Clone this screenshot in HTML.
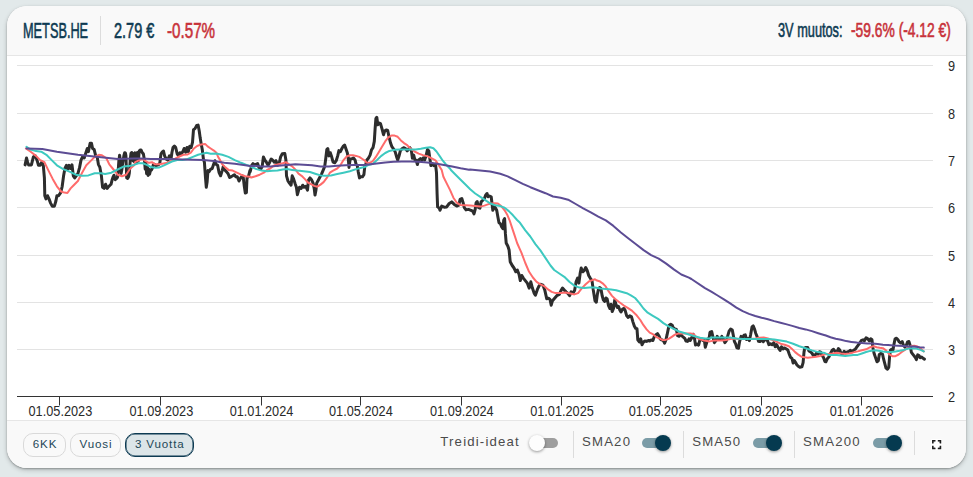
<!DOCTYPE html>
<html><head><meta charset="utf-8"><title>METSB.HE</title>
<style>
html,body{margin:0;padding:0;}
body{width:973px;height:477px;overflow:hidden;background:#e2e9ea;font-family:"Liberation Sans",sans-serif;position:relative;}
.card{position:absolute;left:7px;top:6px;width:959px;height:462px;border-radius:20px;background:#fff;box-shadow:0 1px 2px rgba(0,0,0,.28),0 2px 5px rgba(0,10,10,.2);overflow:hidden;}
.head{position:absolute;left:0;top:0;width:100%;height:49px;background:#f9f9f9;border-bottom:1px solid #e6e6e6;}
.foot{position:absolute;left:0;top:414px;width:100%;height:48px;background:#f9f9f9;border-top:1px solid #e6e6e6;}
.chart{position:absolute;left:0;top:0;}
.cond{position:absolute;white-space:nowrap;font-size:21.5px;line-height:21.5px;transform-origin:0 50%;color:#0d3a52;-webkit-text-stroke:.6px #0d3a52;}
.red{color:#c8323a;-webkit-text-stroke-color:#c8323a;}
.vsep{position:absolute;width:1px;background:#dcdcdc;}
.btn{position:absolute;top:433.2px;height:21.4px;border:1px solid #d9d9d9;border-radius:10px;background:#f9f9f9;color:#234757;font-size:11.6px;letter-spacing:.85px;line-height:20.2px;text-indent:.8px;text-align:center;box-sizing:content-box;}
.btn.act{border:1px solid #0d3a52;background:#dce5e8;box-shadow:inset 0 0 0 .5px #0d3a52;}
.lbl{position:absolute;top:433px;font-size:13.2px;line-height:18px;color:#4b4b4b;letter-spacing:1.18px;white-space:nowrap;}
.trk{position:absolute;top:438px;width:28px;height:10px;border-radius:5px;background:#9e9e9e;}
.trk.on{background:#7b9ca7;}
.knob{position:absolute;top:435px;width:16px;height:16px;border-radius:50%;background:#fdfdfd;box-shadow:0 1px 3px rgba(0,0,0,.4);}
.knob.on{background:#053a50;}
</style></head><body>
<div class="card">
<div class="head"></div>
<div class="foot"></div>
</div>
<svg class="chart" width="973" height="477" viewBox="0 0 973 477">
<line x1="17" x2="933" y1="349.5" y2="349.5" stroke="#e3e3e3" stroke-width="1"/><line x1="17" x2="933" y1="302.5" y2="302.5" stroke="#e3e3e3" stroke-width="1"/><line x1="17" x2="933" y1="255.5" y2="255.5" stroke="#e3e3e3" stroke-width="1"/><line x1="17" x2="933" y1="207.5" y2="207.5" stroke="#e3e3e3" stroke-width="1"/><line x1="17" x2="933" y1="160.5" y2="160.5" stroke="#e3e3e3" stroke-width="1"/><line x1="17" x2="933" y1="113.5" y2="113.5" stroke="#e3e3e3" stroke-width="1"/><line x1="17" x2="933" y1="65.5" y2="65.5" stroke="#e3e3e3" stroke-width="1"/>
<line x1="17" x2="933" y1="396.5" y2="396.5" stroke="#333" stroke-width="1"/>
<line x1="59.5" x2="59.5" y1="396.5" y2="405.5" stroke="#333" stroke-width="1"/><line x1="160.5" x2="160.5" y1="396.5" y2="405.5" stroke="#333" stroke-width="1"/><line x1="261.5" x2="261.5" y1="396.5" y2="405.5" stroke="#333" stroke-width="1"/><line x1="360.5" x2="360.5" y1="396.5" y2="405.5" stroke="#333" stroke-width="1"/><line x1="461.5" x2="461.5" y1="396.5" y2="405.5" stroke="#333" stroke-width="1"/><line x1="561.5" x2="561.5" y1="396.5" y2="405.5" stroke="#333" stroke-width="1"/><line x1="660.5" x2="660.5" y1="396.5" y2="405.5" stroke="#333" stroke-width="1"/><line x1="761.5" x2="761.5" y1="396.5" y2="405.5" stroke="#333" stroke-width="1"/><line x1="861.5" x2="861.5" y1="396.5" y2="405.5" stroke="#333" stroke-width="1"/>
<g font-family="Liberation Sans, sans-serif" font-size="12.75" fill="#2a2a2a"><text transform="translate(60.4,415.7) scale(1,1.15)" text-anchor="middle">01.05.2023</text><text transform="translate(161.4,415.7) scale(1,1.15)" text-anchor="middle">01.09.2023</text><text transform="translate(261.5,415.7) scale(1,1.15)" text-anchor="middle">01.01.2024</text><text transform="translate(360.9,415.7) scale(1,1.15)" text-anchor="middle">01.05.2024</text><text transform="translate(461.8,415.7) scale(1,1.15)" text-anchor="middle">01.09.2024</text><text transform="translate(562.0,415.7) scale(1,1.15)" text-anchor="middle">01.01.2025</text><text transform="translate(660.5,415.7) scale(1,1.15)" text-anchor="middle">01.05.2025</text><text transform="translate(761.5,415.7) scale(1,1.15)" text-anchor="middle">01.09.2025</text><text transform="translate(861.6,415.7) scale(1,1.15)" text-anchor="middle">01.01.2026</text><text transform="translate(948,401.9) scale(1,1.09)">2</text><text transform="translate(948,354.9) scale(1,1.09)">3</text><text transform="translate(948,307.9) scale(1,1.09)">4</text><text transform="translate(948,260.9) scale(1,1.09)">5</text><text transform="translate(948,212.9) scale(1,1.09)">6</text><text transform="translate(948,165.9) scale(1,1.09)">7</text><text transform="translate(948,118.9) scale(1,1.09)">8</text><text transform="translate(948,70.9) scale(1,1.09)">9</text></g>
<g fill="none" stroke-linejoin="round" stroke-linecap="round">
<path d="M25.1,164.9 L26.5,158.0 L27.6,162.2 L28.6,164.9 L31.4,164.9 L33.4,156.9 L35.3,155.9 L37.0,160.1 L38.5,165.3 L40.2,165.3 L41.8,162.2 L43.3,165.3 L44.4,177.9 L44.8,195.7 L46.0,198.9 L47.5,195.7 L49.0,198.9 L50.6,203.1 L52.3,206.2 L54.4,206.2 L55.9,201.0 L56.9,195.7 L58.6,195.7 L60.7,192.6 L62.2,186.3 L63.6,175.8 L64.9,168.5 L66.4,165.3 L67.8,169.1 L69.1,165.3 L70.6,168.5 L72.0,164.9 L73.3,175.8 L74.7,177.9 L76.2,175.8 L77.9,173.7 L79.6,167.4 L81.0,160.1 L82.5,156.9 L84.2,158.0 L85.9,152.7 L87.3,148.5 L88.4,151.7 L90.1,143.3 L91.5,143.3 L92.6,148.5 L94.2,149.6 L95.7,155.9 L97.2,156.9 L98.4,164.3 L99.9,167.4 L101.4,175.8 L102.6,187.3 L104.1,188.4 L105.6,184.2 L107.2,188.4 L108.0,187.3 L109.5,185.8 L111.0,184.3 L112.0,180.3 L113.0,177.2 L114.0,175.2 L115.2,179.7 L116.3,178.7 L117.5,177.2 L118.3,169.2 L118.9,160.1 L119.6,155.3 L120.2,159.1 L120.6,166.2 L121.1,173.4 L121.9,169.2 L122.7,163.1 L123.3,159.6 L124.0,155.1 L124.7,152.7 L125.4,152.9 L125.9,155.6 L126.3,166.2 L126.7,178.0 L127.6,178.4 L128.6,176.8 L129.3,173.2 L129.8,167.2 L130.3,159.1 L131.0,153.3 L131.7,152.5 L132.5,153.3 L133.0,160.6 L133.7,161.3 L134.4,155.1 L135.0,152.9 L135.6,162.6 L136.3,152.9 L137.0,162.3 L137.7,152.5 L138.4,160.6 L139.2,151.1 L140.2,150.0 L141.0,149.9 L141.8,151.7 L142.6,153.1 L143.4,153.9 L143.9,157.1 L144.6,161.6 L145.2,169.2 L145.9,162.6 L146.6,173.7 L147.3,165.7 L148.1,175.4 L148.9,169.2 L149.6,174.2 L150.4,170.7 L151.4,170.0 L152.4,168.0 L153.2,165.2 L153.9,164.2 L154.9,164.7 L156.0,165.7 L158.3,164.9 L159.8,163.2 L161.0,153.8 L162.5,151.7 L163.5,151.1 L164.6,155.9 L166.1,159.0 L167.7,160.1 L169.4,155.9 L170.9,160.1 L171.9,152.7 L173.0,147.5 L174.4,146.0 L175.7,147.5 L177.2,153.8 L178.6,155.9 L179.9,152.7 L181.4,153.8 L182.8,151.7 L184.1,148.5 L185.6,152.3 L187.0,147.5 L188.3,151.7 L189.7,146.4 L191.2,147.5 L192.5,142.3 L193.5,129.7 L195.0,128.6 L196.7,125.5 L198.1,125.1 L199.2,130.7 L200.2,138.1 L201.3,144.4 L202.3,149.6 L203.4,159.0 L204.4,162.2 L205.5,177.9 L206.3,187.3 L207.1,182.1 L208.0,170.6 L209.2,171.6 L210.7,169.1 L212.2,168.5 L213.4,164.9 L214.9,160.7 L216.0,164.3 L217.6,165.3 L219.1,172.7 L220.6,175.8 L222.2,170.6 L223.3,166.4 L224.8,169.9 L226.4,171.6 L228.1,173.7 L229.6,177.5 L231.0,176.8 L232.7,175.8 L234.4,174.7 L235.9,176.8 L237.3,176.8 L239.0,181.0 L240.7,177.9 L242.2,175.8 L243.2,176.8 L244.3,186.3 L245.3,193.0 L246.4,192.6 L247.0,177.9 L248.4,176.8 L249.9,170.6 L250.2,171.6 L251.7,165.3 L253.0,163.6 L254.4,164.9 L255.9,164.3 L257.6,163.6 L259.3,168.5 L260.7,169.1 L262.2,166.4 L263.4,156.9 L264.9,160.1 L266.4,162.2 L268.1,165.3 L269.7,162.2 L271.2,159.0 L272.7,160.1 L274.4,162.2 L276.0,160.7 L277.5,165.3 L279.0,164.3 L280.6,156.9 L282.3,153.8 L284.8,153.4 L285.9,160.1 L286.5,175.8 L288.0,181.0 L289.4,183.1 L291.1,185.2 L292.2,175.8 L293.6,178.9 L295.3,184.2 L296.4,187.3 L297.4,194.7 L298.5,190.5 L299.5,187.3 L301.2,188.4 L302.7,185.2 L304.1,187.3 L305.8,186.3 L307.5,190.1 L308.5,180.0 L310.0,177.9 L311.7,180.0 L313.1,183.1 L314.2,188.4 L315.0,195.1 L315.9,190.5 L316.7,183.1 L318.4,180.0 L320.1,176.8 L321.5,174.1 L323.0,170.6 L324.7,166.4 L325.7,159.0 L326.8,149.6 L327.8,148.5 L328.9,155.9 L330.3,152.7 L331.4,155.9 L333.1,162.2 L334.7,162.8 L336.2,160.7 L337.7,155.9 L338.9,150.6 L340.4,151.7 L341.9,148.5 L343.1,146.4 L344.6,145.0 L346.0,149.0 L347.3,152.7 L348.1,156.9 L349.0,167.4 L350.2,159.0 L351.9,158.6 L353.6,158.0 L355.1,160.1 L356.1,164.3 L357.2,165.3 L358.2,171.6 L359.5,177.9 L360.7,176.8 L362.4,176.8 L363.9,174.7 L364.9,165.3 L365.5,165.6 L366.7,160.3 L368.4,158.2 L370.1,155.1 L371.5,149.8 L373.0,147.7 L374.3,141.4 L375.1,128.9 L375.9,118.4 L376.8,117.3 L377.8,124.7 L379.3,123.0 L380.5,123.6 L382.0,128.9 L383.5,134.7 L384.7,131.0 L386.2,129.9 L387.7,130.5 L388.9,136.2 L390.4,142.5 L391.9,146.7 L393.5,148.8 L395.2,151.9 L396.7,157.2 L397.7,159.9 L399.0,156.1 L400.3,150.9 L401.9,148.8 L404.0,147.7 L405.7,148.8 L407.2,150.9 L408.6,148.8 L409.9,147.7 L411.4,150.9 L412.4,158.2 L413.7,155.1 L414.9,159.9 L416.2,160.3 L417.4,164.5 L418.7,159.9 L420.4,158.6 L421.8,159.9 L423.3,157.8 L424.6,159.9 L426.0,156.1 L427.5,149.4 L428.8,150.9 L429.8,158.2 L430.9,165.6 L432.3,163.5 L433.8,165.6 L435.5,164.1 L436.5,172.9 L437.1,193.9 L437.6,206.9 L439.2,208.1 L440.0,210.3 L441.7,206.1 L444.2,207.2 L446.7,206.9 L449.2,203.5 L451.7,201.9 L454.3,204.4 L456.8,206.1 L458.8,205.2 L460.1,199.4 L461.8,198.5 L463.1,202.7 L464.3,207.7 L466.0,209.9 L468.5,209.4 L471.0,210.3 L472.7,211.1 L474.0,213.9 L475.2,209.4 L476.1,202.7 L477.2,201.5 L478.6,207.7 L479.9,208.2 L481.1,201.9 L482.8,200.2 L484.4,198.5 L485.6,195.2 L487.0,193.5 L488.1,196.8 L489.5,196.0 L491.2,196.8 L492.0,203.5 L492.8,210.3 L494.0,206.1 L495.3,207.7 L496.7,210.3 L497.9,217.0 L499.0,222.8 L500.4,223.7 L501.7,227.0 L502.9,228.7 L503.7,220.3 L504.6,218.6 L505.4,233.7 L506.2,243.0 L507.9,246.3 L509.1,250.0 L510.2,261.7 L512.2,265.5 L514.0,268.0 L515.8,271.8 L517.3,270.0 L519.0,274.3 L520.3,280.6 L521.8,275.5 L523.3,278.1 L525.3,280.6 L527.3,283.1 L529.1,288.1 L530.8,281.8 L532.4,288.1 L534.1,293.1 L535.4,295.2 L537.4,289.4 L539.2,285.6 L540.9,284.3 L542.9,285.1 L544.9,290.6 L546.7,298.7 L548.5,298.2 L550.0,299.4 L551.2,305.2 L552.5,300.7 L554.2,298.7 L556.8,295.7 L559.3,294.4 L561.0,290.6 L562.5,288.1 L564.3,290.1 L566.1,291.9 L568.1,293.6 L569.6,295.7 L571.1,291.9 L573.1,293.1 L574.6,290.6 L576.1,281.8 L577.6,278.1 L578.9,283.1 L580.2,273.0 L581.2,268.0 L582.7,271.8 L584.2,270.5 L585.7,267.5 L587.2,270.5 L588.7,275.5 L590.2,278.1 L592.0,280.6 L593.2,289.4 L595.0,300.7 L596.3,302.2 L597.3,294.8 L598.4,289.6 L599.6,287.5 L600.9,288.5 L602.2,295.9 L603.4,300.1 L604.7,301.5 L605.9,298.0 L607.2,299.0 L608.4,305.3 L609.9,308.5 L611.0,304.3 L612.2,311.6 L613.5,308.5 L614.7,300.1 L616.0,304.3 L617.3,307.4 L618.5,306.4 L619.8,309.9 L621.0,312.0 L622.5,309.1 L624.0,308.5 L625.2,310.6 L626.7,315.8 L628.2,317.5 L629.8,315.8 L631.5,316.8 L633.0,322.1 L634.4,326.3 L635.7,328.4 L637.0,328.8 L637.8,339.9 L639.3,342.0 L640.7,338.9 L642.0,344.7 L643.5,342.0 L644.9,341.0 L646.6,341.4 L648.3,340.5 L649.7,341.0 L651.2,339.9 L652.9,340.5 L654.6,335.7 L656.0,334.7 L657.5,333.6 L658.8,335.7 L660.2,338.9 L661.7,339.9 L663.4,340.5 L664.6,343.1 L665.9,339.9 L667.1,334.7 L668.4,328.4 L669.2,325.2 L670.7,324.2 L672.2,325.2 L673.4,328.0 L674.9,328.8 L676.4,329.4 L677.6,335.7 L679.1,336.3 L680.6,334.2 L681.8,335.7 L683.3,337.2 L684.8,338.4 L686.0,341.0 L687.5,341.4 L689.0,338.9 L690.2,340.5 L691.7,337.8 L693.1,334.2 L694.4,337.8 L695.5,345.1 L696.9,344.1 L698.6,345.1 L699.9,339.9 L701.1,338.9 L702.8,340.5 L704.3,339.9 L705.3,347.2 L706.6,343.1 L707.8,338.9 L709.1,338.4 L709.9,332.6 L710.2,332.2 L711.7,331.5 L713.0,337.4 L714.4,342.7 L715.9,340.6 L717.2,336.4 L718.6,338.5 L720.1,339.5 L721.8,336.4 L723.4,339.1 L724.9,342.7 L726.4,340.6 L727.6,336.4 L729.1,331.1 L730.6,329.0 L732.3,330.1 L733.3,335.3 L734.4,341.6 L735.6,343.7 L736.9,347.9 L738.5,348.3 L739.6,341.6 L741.1,336.4 L742.7,337.4 L744.0,335.3 L745.3,334.9 L746.5,339.5 L748.0,338.5 L749.4,340.6 L750.7,334.3 L752.0,326.9 L753.2,325.9 L754.5,329.0 L755.7,333.2 L757.0,336.4 L758.5,341.2 L759.9,341.6 L761.6,339.9 L763.3,341.6 L764.7,339.5 L766.2,339.9 L767.5,340.6 L768.9,344.7 L770.4,343.7 L772.1,344.7 L773.8,342.7 L775.2,346.8 L776.7,344.7 L778.4,347.9 L780.1,350.4 L781.5,346.8 L783.0,348.9 L784.7,347.9 L786.3,348.9 L787.8,350.0 L789.3,354.2 L790.5,357.3 L792.0,358.4 L793.1,363.0 L794.3,360.5 L795.6,362.6 L796.8,364.7 L798.3,366.3 L799.8,367.2 L801.9,366.8 L803.1,362.6 L804.0,352.1 L804.8,347.9 L806.0,347.5 L807.7,347.5 L809.0,351.0 L810.2,351.7 L811.9,353.1 L813.6,355.9 L815.1,355.2 L816.5,353.1 L818.2,354.2 L819.5,351.7 L820.7,352.1 L822.0,355.2 L823.4,357.3 L824.9,361.5 L825.9,361.8 L827.3,358.7 L828.8,357.0 L830.5,353.5 L832.2,350.3 L833.6,349.3 L835.1,351.4 L836.8,352.4 L838.4,348.6 L839.9,350.3 L841.0,353.5 L842.6,354.1 L844.1,351.4 L845.6,352.4 L847.3,352.0 L848.9,351.4 L850.4,350.3 L851.9,352.0 L853.5,350.3 L855.2,349.3 L856.7,347.2 L858.2,345.1 L859.8,343.0 L861.5,340.3 L863.0,339.8 L864.4,340.9 L866.1,337.7 L867.8,338.8 L869.3,340.9 L870.7,338.8 L872.0,339.8 L872.8,347.2 L874.1,353.5 L875.6,357.7 L877.0,361.8 L878.3,360.8 L879.3,354.5 L880.8,353.5 L882.5,354.1 L883.5,358.7 L884.6,362.9 L886.0,368.1 L887.5,369.2 L888.8,367.1 L889.6,356.6 L890.4,350.3 L891.7,349.3 L893.0,349.9 L893.8,345.1 L895.1,338.8 L896.5,338.2 L898.0,339.8 L899.2,341.9 L900.7,343.0 L902.2,341.5 L903.4,345.1 L904.9,347.2 L906.4,345.1 L907.6,341.9 L908.9,341.5 L910.1,345.1 L911.4,352.4 L912.7,354.1 L913.9,355.6 L915.4,357.7 L916.4,359.7 L917.7,354.9 L919.0,355.6 L920.2,357.7 L921.7,357.0 L923.1,358.3 L924.4,359.1" stroke="#2d2d2d" stroke-width="3"/>
<path d="M25.9,148.5 L30.7,151.7 L36.0,155.9 L40.2,160.1 L44.4,162.2 L48.5,170.6 L52.7,178.9 L56.9,186.3 L61.1,191.5 L64.3,192.6 L67.4,193.0 L70.6,188.4 L73.7,185.2 L77.9,181.0 L82.1,172.7 L86.3,165.3 L90.5,161.1 L94.7,156.9 L98.9,154.8 L102.0,155.3 L106.2,158.0 L109.3,164.3 L113.5,169.5 L117.7,174.7 L121.9,176.2 L126.1,174.7 L130.3,168.5 L134.1,165.3 L135.2,162.2 L139.4,160.1 L142.6,159.0 L145.7,161.1 L148.9,162.8 L152.0,162.2 L155.2,164.3 L159.4,164.3 L163.5,163.6 L167.7,162.8 L171.9,160.1 L175.1,158.6 L179.3,156.5 L183.5,154.8 L187.7,154.4 L190.8,152.7 L193.9,148.5 L197.1,146.0 L201.3,144.4 L205.1,143.9 L207.6,146.4 L210.7,148.5 L213.9,150.6 L216.4,152.7 L218.1,156.9 L220.1,160.1 L222.2,164.3 L225.4,167.4 L228.5,169.9 L232.7,170.6 L236.9,172.7 L241.1,174.7 L245.3,176.2 L249.9,176.8 L251.3,177.5 L255.5,176.2 L259.7,174.7 L263.9,172.7 L267.0,169.9 L270.2,168.5 L274.4,165.3 L278.5,164.3 L282.7,163.2 L285.9,162.2 L289.0,164.3 L292.2,166.4 L295.3,169.5 L298.5,173.7 L301.6,175.8 L304.7,178.9 L307.9,182.5 L311.0,184.2 L314.2,185.9 L317.3,186.7 L320.5,184.6 L323.6,182.1 L326.8,177.9 L329.9,172.7 L333.1,170.6 L337.2,168.5 L340.4,165.3 L343.5,160.1 L346.7,156.5 L349.8,155.3 L353.0,155.3 L356.1,155.9 L359.3,156.9 L362.4,159.0 L364.9,160.7 L366.3,162.4 L369.4,162.8 L372.6,161.4 L375.7,157.2 L378.9,151.9 L382.0,146.7 L385.2,141.4 L388.3,137.3 L391.4,135.6 L394.6,135.6 L397.7,136.8 L400.9,140.4 L404.0,143.1 L407.2,145.2 L410.3,148.2 L414.5,151.5 L418.7,153.6 L422.9,155.1 L427.1,156.1 L431.3,158.2 L435.5,160.3 L438.6,164.9 L441.7,170.0 L443.4,176.7 L446.7,183.4 L450.1,190.1 L453.4,197.7 L456.8,202.7 L460.1,204.9 L465.2,205.2 L470.2,205.6 L475.2,206.1 L480.3,206.6 L484.4,205.6 L487.8,204.4 L491.2,203.5 L494.5,203.2 L497.9,203.5 L501.2,206.1 L504.6,210.3 L507.1,214.4 L509.6,220.3 L512.1,227.9 L514.6,235.4 L517.1,243.0 L519.7,248.8 L521.5,252.9 L525.3,263.0 L529.1,271.8 L532.9,277.5 L536.6,281.8 L540.4,284.3 L544.2,286.1 L548.0,289.4 L551.7,291.9 L555.5,293.1 L560.5,293.1 L565.6,292.6 L570.6,293.6 L574.4,294.4 L578.1,293.1 L581.9,288.1 L585.7,284.3 L589.5,281.1 L595.0,279.3 L596.3,280.2 L599.4,281.2 L602.6,283.3 L605.7,286.4 L608.9,291.7 L612.0,295.9 L615.2,299.0 L619.4,302.2 L623.5,305.3 L627.7,307.8 L631.9,310.6 L636.1,314.7 L640.3,320.0 L643.5,325.2 L646.6,329.4 L649.7,332.6 L652.9,334.2 L656.0,336.8 L659.2,338.4 L662.3,339.9 L665.5,339.9 L668.6,338.9 L671.8,336.8 L674.9,334.7 L678.1,333.6 L682.2,333.6 L686.4,333.6 L690.6,333.6 L693.8,334.2 L696.9,337.8 L700.1,339.3 L704.3,340.5 L709.9,341.4 L713.4,340.6 L717.6,340.6 L721.8,340.6 L726.0,339.9 L730.2,339.1 L734.4,338.5 L738.5,339.1 L742.7,339.1 L746.9,339.1 L751.1,339.1 L755.3,338.5 L759.5,337.8 L763.7,337.4 L767.9,338.5 L772.1,339.9 L776.3,341.6 L780.5,343.7 L784.7,344.7 L788.9,346.2 L792.0,348.9 L795.1,352.1 L798.3,354.6 L801.4,356.7 L804.6,357.3 L807.7,357.7 L811.9,357.3 L816.1,356.7 L820.3,355.9 L824.9,354.2 L828.4,354.1 L832.6,353.5 L836.8,352.8 L841.0,353.5 L845.2,354.1 L849.4,353.5 L853.5,352.4 L857.7,351.4 L861.9,350.3 L866.1,349.3 L870.3,347.2 L873.5,346.1 L876.6,347.2 L879.7,347.8 L882.9,348.2 L886.0,350.3 L889.2,354.1 L892.3,356.2 L895.5,356.2 L898.6,354.5 L901.8,352.0 L904.9,349.9 L908.1,347.8 L911.2,346.1 L914.3,345.7 L917.5,346.5 L920.6,348.6 L923.8,351.4" stroke="#ff6b6b" stroke-width="2"/>
<path d="M26.5,146.9 L30.7,149.6 L36.0,151.1 L41.2,151.7 L46.4,154.8 L51.7,160.1 L56.9,165.3 L63.2,169.1 L69.5,171.6 L75.8,174.7 L82.1,175.8 L88.4,175.4 L94.7,173.3 L101.0,173.3 L105.1,174.1 L111.4,172.7 L117.7,169.5 L124.0,166.4 L130.3,165.7 L134.1,164.9 L138.4,163.2 L142.6,163.2 L146.8,164.9 L151.0,167.0 L155.2,167.8 L159.4,167.4 L163.5,165.7 L167.7,163.6 L171.9,161.5 L177.2,160.1 L182.4,160.1 L187.7,159.0 L192.9,156.9 L198.1,154.8 L203.4,153.4 L206.5,152.7 L210.7,153.8 L216.0,153.4 L222.2,154.8 L228.5,156.9 L234.8,160.1 L241.1,162.8 L246.4,164.9 L249.9,165.9 L252.3,167.4 L256.5,169.1 L261.8,170.6 L267.0,171.2 L272.3,170.8 L277.5,170.6 L282.7,169.5 L286.9,169.1 L292.2,169.9 L297.4,170.6 L303.7,171.2 L310.0,172.0 L315.2,173.7 L320.5,175.4 L325.7,175.8 L331.0,175.4 L337.2,174.1 L343.5,172.7 L349.8,171.2 L356.1,169.1 L361.4,167.8 L364.9,167.0 L368.4,164.9 L372.6,164.1 L376.8,160.3 L381.0,156.1 L385.2,153.0 L389.4,150.9 L394.6,149.8 L399.8,149.4 L405.1,149.4 L410.3,149.4 L415.6,149.4 L420.8,148.8 L426.0,147.7 L430.2,147.3 L433.4,148.2 L436.5,151.5 L439.7,156.1 L442.8,160.7 L446.0,164.5 L450.1,168.7 L450.9,170.0 L455.1,174.2 L460.1,179.2 L465.2,184.3 L470.2,189.3 L475.2,193.5 L480.3,196.8 L485.3,200.2 L490.3,203.5 L495.3,205.2 L500.4,206.1 L504.6,207.7 L508.8,211.1 L513.0,215.3 L517.1,220.0 L520.0,222.8 L525.3,230.3 L530.3,236.5 L535.4,244.1 L540.4,250.4 L545.4,257.9 L550.5,265.5 L554.2,270.0 L559.3,273.5 L564.3,276.8 L569.3,281.8 L574.4,285.6 L579.4,287.6 L584.4,288.1 L589.5,287.6 L595.0,287.6 L600.5,288.5 L605.7,289.0 L611.0,289.6 L616.2,290.2 L621.4,291.7 L626.7,293.2 L630.9,295.3 L635.1,298.0 L639.3,302.8 L643.5,308.5 L647.7,312.7 L652.9,315.8 L658.1,318.9 L663.4,323.1 L668.6,326.3 L673.9,328.8 L679.1,331.5 L684.3,333.0 L689.6,334.7 L694.8,336.3 L700.1,337.8 L705.3,338.4 L709.9,338.4 L711.3,337.4 L717.6,337.4 L723.9,337.4 L730.2,337.4 L736.4,338.5 L742.7,339.1 L749.0,339.1 L755.3,339.1 L761.6,339.1 L767.9,339.1 L774.2,339.5 L780.5,340.6 L786.8,341.6 L793.1,343.7 L799.3,346.2 L805.6,348.3 L811.9,350.4 L818.2,352.1 L824.9,353.1 L828.4,354.9 L832.6,354.9 L836.8,354.9 L841.0,355.6 L845.2,356.0 L849.4,355.6 L853.5,354.9 L857.7,354.9 L861.9,353.5 L866.1,352.0 L870.3,350.9 L874.5,350.3 L878.7,350.7 L882.9,351.4 L887.1,352.0 L891.3,352.0 L895.5,351.4 L899.7,350.7 L903.9,349.9 L908.1,348.6 L912.2,348.2 L916.4,348.6 L920.6,349.9 L923.8,351.4" stroke="#3dc9c0" stroke-width="2"/>
<path d="M26.5,148.5 L42.3,149.0 L56.9,151.7 L77.9,154.8 L98.9,156.9 L117.7,159.0 L134.1,158.6 L140.5,158.4 L151.0,159.0 L161.4,159.0 L171.9,159.0 L182.4,159.4 L192.9,159.7 L203.4,160.1 L213.9,161.1 L224.3,162.8 L234.8,163.8 L245.3,165.3 L249.9,165.9 L253.4,165.7 L261.8,166.4 L270.2,166.4 L278.5,165.7 L286.9,164.9 L295.3,164.3 L303.7,164.7 L312.1,165.3 L320.5,166.4 L328.9,166.4 L337.2,165.7 L345.6,165.3 L354.0,164.9 L364.9,164.9 L368.4,164.5 L376.8,163.5 L385.2,162.4 L393.5,161.8 L401.9,161.4 L410.3,161.4 L418.7,161.8 L427.1,162.4 L435.5,163.5 L443.9,164.9 L452.2,166.6 L460.6,168.3 L469.0,169.7 L470.0,169.6 L480.1,170.6 L490.1,171.6 L500.2,173.8 L507.7,176.4 L515.3,180.1 L522.8,183.9 L530.4,187.2 L537.9,190.2 L545.5,193.2 L553.0,196.5 L560.6,197.7 L568.1,199.7 L575.7,204.0 L583.2,208.3 L590.8,212.3 L598.3,216.6 L605.8,220.4 L613.4,225.9 L620.9,232.5 L628.5,238.5 L636.0,244.3 L643.6,250.1 L651.1,255.1 L658.7,258.6 L666.2,263.6 L673.8,269.4 L681.3,274.5 L688.9,277.7 L691.4,279.0 L705.0,288.1 L711.3,291.7 L717.6,295.5 L723.9,299.3 L730.2,303.4 L736.4,307.6 L742.7,311.2 L749.0,313.9 L755.3,316.0 L761.6,317.7 L767.9,319.2 L774.2,321.1 L780.5,322.7 L786.8,324.4 L793.1,326.1 L799.3,328.0 L805.6,329.4 L811.9,331.1 L818.2,333.2 L824.9,335.3 L825.2,335.2 L830.5,337.3 L835.7,338.8 L841.0,339.8 L846.2,341.1 L851.4,341.9 L856.7,342.6 L861.9,343.0 L867.2,343.4 L872.4,343.6 L877.7,344.0 L882.9,344.7 L888.1,345.1 L893.4,345.5 L898.6,345.7 L903.9,346.1 L909.1,346.5 L914.3,346.5 L919.6,347.2 L923.8,347.6" stroke="#5c4c94" stroke-width="2"/>
</g>
</svg>
<div class="cond" id="h1" style="left:22.9px;top:20.5px;transform:scaleX(0.5924)">METSB.HE</div>
<div class="vsep" style="left:100px;top:16px;height:29px"></div>
<div class="cond" id="h2" style="left:113.8px;top:20.5px;transform:scaleX(0.6744)">2.79 €</div>
<div class="cond red" id="h3" style="left:166.8px;top:20.5px;transform:scaleX(0.706)">-0.57%</div>
<div class="cond" id="h4" style="left:777.9px;top:21px;font-size:19.5px;line-height:19.5px;transform:scaleX(.6544)">3V muutos:</div>
<div class="cond red" id="h5" style="left:850.9px;top:21px;font-size:19.5px;line-height:19.5px;transform:scaleX(.7087)">-59.6% (-4.12 €)</div>

<div class="btn" id="b1" style="left:23.4px;width:40.5px">6KK</div>
<div class="btn" id="b2" style="left:70.3px;width:48.6px">Vuosi</div>
<div class="btn act" id="b3" style="left:125.1px;width:66.6px">3 Vuotta</div>

<div class="lbl" id="l1" style="left:440.3px">Treidi-ideat</div>
<div class="trk" style="left:530px"></div><div class="knob" style="left:529px"></div>
<div class="vsep" style="left:573px;top:431px;height:27px"></div>
<div class="lbl" id="l2" style="left:582px">SMA20</div>
<div class="trk on" style="left:642.3px"></div><div class="knob on" style="left:655px"></div>
<div class="vsep" style="left:683px;top:431px;height:27px"></div>
<div class="lbl" id="l3" style="left:692.2px">SMA50</div>
<div class="trk on" style="left:752.5px"></div><div class="knob on" style="left:765.5px"></div>
<div class="vsep" style="left:794px;top:431px;height:27px"></div>
<div class="lbl" id="l4" style="left:803.1px">SMA200</div>
<div class="trk on" style="left:873px"></div><div class="knob on" style="left:886px"></div>
<div class="vsep" style="left:914px;top:431px;height:24px"></div>
<svg style="position:absolute;left:930.8px;top:438.8px" width="11.3" height="11.3" viewBox="0 0 11.3 11.3"><rect width="11.3" height="11.3" rx="1.5" fill="#fff"/><path d="M1.8 4.5V1.8H4.5 M6.8 1.8H9.5V4.5 M9.5 6.8V9.5H6.8 M4.5 9.5H1.8V6.8" fill="none" stroke="#1c1c1c" stroke-width="1.5"/><path d="M2.5 2.5H4L2.5 4Z M8.8 2.5V4L7.3 2.5Z M8.8 8.8H7.3L8.8 7.3Z M2.5 8.8V7.3L4 8.8Z" fill="#1c1c1c" opacity=".55"/></svg>
</body></html>
